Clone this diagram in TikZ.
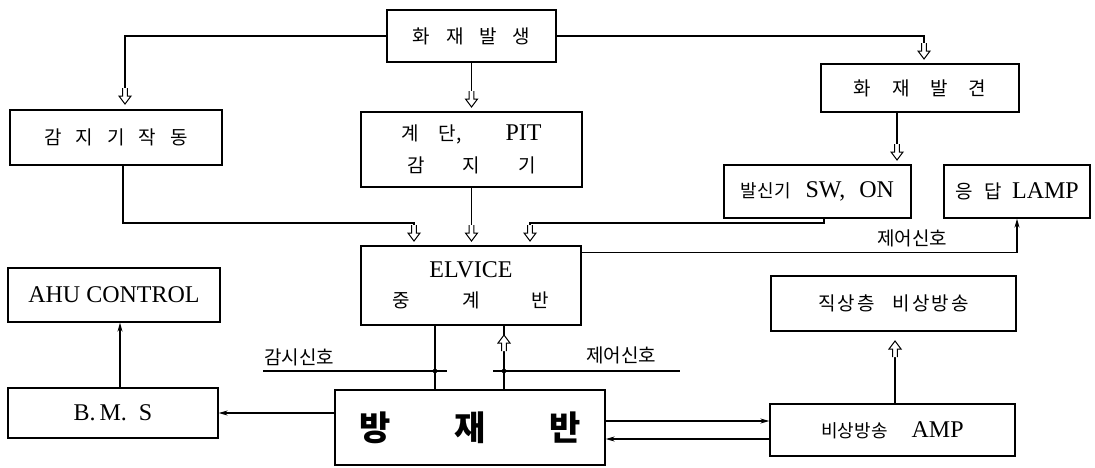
\documentclass[tikz,border=0pt]{standalone}
\usepackage{fontspec}
\setmainfont{Liberation Serif}
\newfontfamily\krfont{Noto Sans CJK KR}
\newcommand\ko[1]{{\krfont\fontsize{19}{22}\selectfont #1}}
\newcommand\kos[1]{{\krfont\fontsize{18}{20}\selectfont #1}}
\usetikzlibrary{arrows.meta,calc}
\tikzset{
 box/.style={draw,line width=1.3pt,inner sep=0pt,align=center,font=\fontsize{24}{28}\selectfont},
 wire/.style={line width=1.3pt},
 arr/.style={wire,-{Stealth[length=9pt,width=5pt]}},
 lbl/.style={inner sep=0pt},
 hollow/.pic={\draw[line width=1pt,fill=white] (-2.3,-16)--(-2.3,-8)--(-6,-8)--(0,0)--(6,-8)--(2.3,-8)--(2.3,-16);},
}
\begin{document}
\begin{tikzpicture}[x=1pt,y=-1pt]
\useasboundingbox (0,0) rectangle (1095,467);
% boxes
\node[box,minimum width=169pt,minimum height=52pt] (fire) at (471.5,36) {\ko{화\hspace{16pt}재\hspace{16pt}발\hspace{16pt}생}};
\node[box,minimum width=212pt,minimum height=55pt] (sensor) at (116,137.5) {\ko{감\hspace{14pt}지\hspace{14pt}기\hspace{14pt}작\hspace{14pt}동}};
\node[box,minimum width=221pt,minimum height=75pt] (pit) at (471.5,149.5) {\ko{계}\hspace{20pt}\ko{단,}\hspace{44pt}PIT\\[4pt]\ko{감\hspace{38pt}지\hspace{38pt}기}};
\node[box,minimum width=198pt,minimum height=48pt] (find) at (920,88) {\ko{화\hspace{21pt}재\hspace{21pt}발\hspace{21pt}견}};
\node[box,minimum width=187pt,minimum height=53pt] (sw) at (817.5,191.5) {\kos{발신기}\hspace{15pt}SW,\hspace{14pt}ON};
\node[box,minimum width=146pt,minimum height=53pt] (lamp) at (1017,191.5) {\ko{응\hspace{12pt}답}\hspace{10pt}LAMP};
\node[box,minimum width=220pt,minimum height=79pt] (elv) at (471,285.5) {ELVICE\\[2pt]\ko{중\hspace{52pt}계\hspace{52pt}반}};
\node[box,minimum width=212pt,minimum height=54pt] (ahu) at (114,295) {AHU CONTROL};
\node[box,minimum width=245pt,minimum height=55pt] (upper) at (893.5,303.5) {\ko{직\hspace{2pt}상\hspace{2pt}층\hspace{18pt}비\hspace{2pt}상\hspace{2pt}방\hspace{2pt}송}};
\node[box,minimum width=210pt,minimum height=50pt] (bms) at (113,413) {B.\,M.\ \ S};
\node[box,minimum width=270pt,minimum height=75pt] (panel) at (470,427.5) {{\krfont\bfseries\fontsize{34}{38}\selectfont 방\hspace{64pt}재\hspace{64pt}반}};
\node[box,minimum width=245pt,minimum height=52pt] (amp) at (892.5,430) {\kos{비상방송}\hspace{24pt}AMP};
% labels
\node[lbl] (lbl1) at (299,357) {\ko{감시신호}};
\node[lbl] (lbl2) at (621,355) {\ko{제어신호}};
\node[lbl] (lbl3) at (912,238) {\ko{제어신호}};
% arrow tips
\coordinate (t1) at (125,104);
\coordinate (t2) at (471.5,107);
\coordinate (t3) at (924,59);
\coordinate (t4) at (897,160);
\coordinate (t5) at (414,241);
\coordinate (t6) at (471.5,241);
\coordinate (t7) at (530,241);
\coordinate (t10) at (504,335);
\coordinate (t15) at (895,341);
% connectors
\draw[wire] (fire.west) -| (t1);
\draw[wire] (fire.south) -- (t2);
\draw[wire] (fire.east) -| (t3);
\draw[wire] (t4 |- find.south) -- (t4);
\draw[wire] ($(sensor.south)+(7,0)$) |- ($(t5)+(0,-18)$) -- (t5);
\draw[wire] (pit.south) -- (t6);
\draw[wire] ($(sw.south)+(6.5,0)$) |- ($(t7)+(0,-18)$) -- (t7);
\draw[arr] ($(elv.north east)+(0,7)$) -| (lamp.south);
\draw[wire] ($(elv.south)+(-36,0)$) -- ($(panel.north)+(-35,0)$);
\draw[wire] ($(panel.north)+(34,0)$) -- ($(elv.south)+(33,0)$);
\draw[arr] ($(panel.west)+(0,-14.5)$) -- (bms.east);
\draw[arr] ($(bms.north)+(7,0)$) -- ($(ahu.south)+(6,0)$);
\draw[arr] ($(panel.east)+(0,-6.5)$) -- ($(amp.west)+(0,-9)$);
\draw[arr] ($(amp.west)+(0,9)$) -- ($(panel.east)+(0,11.5)$);
\draw[wire] ($(amp.north)+(2.5,0)$) -- (t15);
% signal lines
\coordinate (s1a) at (263,371);
\coordinate (s1b) at (447,371);
\coordinate (s2a) at (493,371);
\coordinate (s2b) at (680,371);
\draw[wire] (s1a) -- (s1b);
\draw[wire] (s2a) -- (s2b);
\fill (435,371) circle (2.3pt);
\fill (504,371) circle (2.3pt);
% hollow arrows
\foreach \t in {t1,t2,t3,t4,t5,t6,t7} \pic at (\t) {hollow};
\pic[rotate=180] at (t10) {hollow};
\pic[rotate=180] at (t15) {hollow};
\end{tikzpicture}
\end{document}
